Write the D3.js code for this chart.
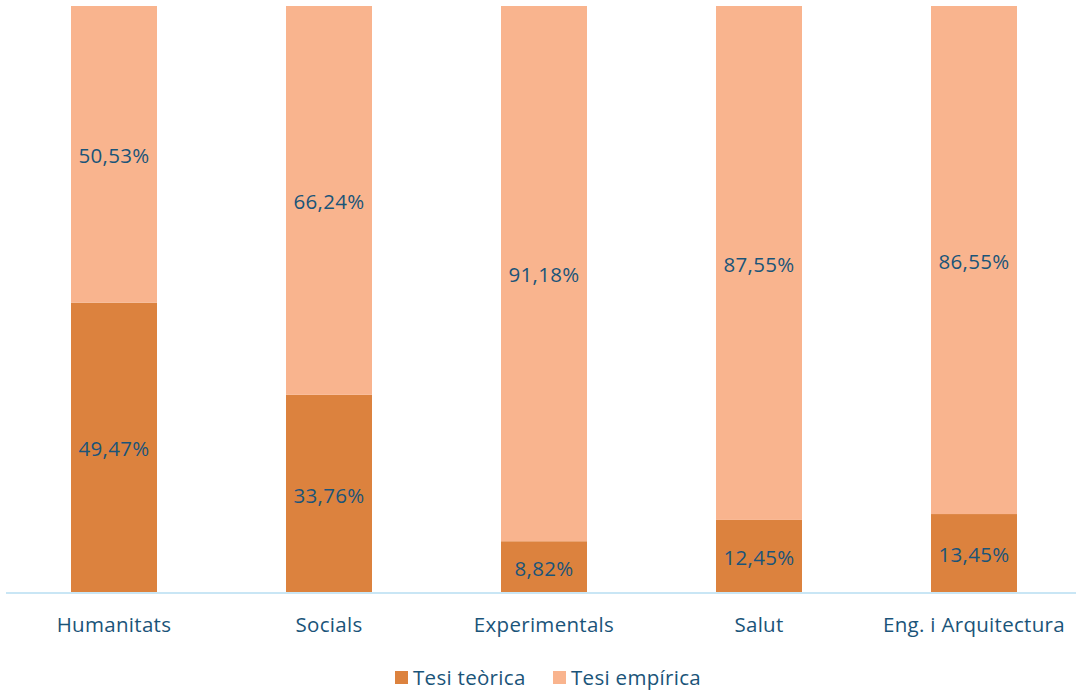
<!DOCTYPE html>
<html>
<head>
<meta charset="utf-8">
<script src="https://cdn.jsdelivr.net/npm/d3@7"></script>
<style>
  html, body { margin: 0; padding: 0; background: #fff; }
  svg { display: block; }
  text { font-family: "Open Sans", "Noto Sans", sans-serif; }
</style>
</head>
<body>
<svg id="chart" width="1076" height="691"></svg>
<script>
// Share of theses by type, per knowledge area (percent)
const categories = ["Humanitats", "Socials", "Experimentals", "Salut", "Eng. i Arquitectura"];
const teorica = [49.47, 33.76, 8.82, 12.45, 13.45];
const empirica = [50.53, 66.24, 91.18, 87.55, 86.55];
const seriesNames = ["Tesi teòrica", "Tesi empírica"];
const seriesColors = ["#dc823e", "#f9b48e"];

const svg = d3.select("#chart");
const textColor = "#1a5479";
const fontSize = 20.5;
const fmt = v => v.toFixed(2).replace(".", ",") + "%";

const x = d3.scaleBand()
  .domain(categories)
  .range([6.5, 1081.5])
  .paddingInner(0.6)
  .paddingOuter(0.3);

const y = d3.scaleLinear().domain([0, 100]).range([593, 6]);

const rows = categories.map((c, i) => ({ cat: c, "Tesi teòrica": teorica[i], "Tesi empírica": empirica[i] }));
const stacked = d3.stack().keys(seriesNames)(rows);

const groups = svg.selectAll("g.series")
  .data(stacked)
  .join("g")
  .attr("class", "series")
  .attr("fill", (d, i) => seriesColors[i]);

groups.selectAll("rect")
  .data(d => d)
  .join("rect")
  .attr("x", d => x(d.data.cat))
  .attr("width", x.bandwidth())
  .attr("y", d => y(d[1]))
  .attr("height", d => y(d[0]) - y(d[1]));

// value labels centred in each segment
groups.selectAll("text")
  .data(d => d.map(s => ({ s, key: d.key })))
  .join("text")
  .attr("x", d => x(d.s.data.cat) + x.bandwidth() / 2)
  .attr("y", d => (y(d.s[0]) + y(d.s[1])) / 2 + 1.5)
  .attr("dy", "0.35em")
  .attr("text-anchor", "middle")
  .attr("fill", textColor)
  .attr("font-size", fontSize)
  .attr("letter-spacing", 0.3)
  .text(d => fmt(d.s.data[d.key]));

// category axis
const axis = svg.append("g").attr("transform", "translate(0,593)")
  .call(d3.axisBottom(x).tickSize(0).tickPadding(24));
axis.select(".domain").attr("stroke", "#c9e6f5").attr("stroke-width", 2)
  .attr("d", "M6,0H1076");
axis.selectAll(".tick text")
  .attr("fill", textColor)
  .attr("font-size", fontSize)
  .attr("letter-spacing", 0.3)
  .attr("font-family", "'Open Sans', 'Noto Sans', sans-serif");

// legend
const legendX = [395, 553];
const legend = svg.append("g");
seriesNames.forEach((name, i) => {
  legend.append("rect")
    .attr("x", legendX[i]).attr("y", 671)
    .attr("width", 13).attr("height", 13)
    .attr("fill", seriesColors[i]);
  legend.append("text")
    .attr("x", legendX[i] + 18).attr("y", 678)
    .attr("dy", "0.35em")
    .attr("fill", textColor)
    .attr("font-size", fontSize)
    .attr("letter-spacing", 0.3)
    .text(name);
});
</script>
</body>
</html>
